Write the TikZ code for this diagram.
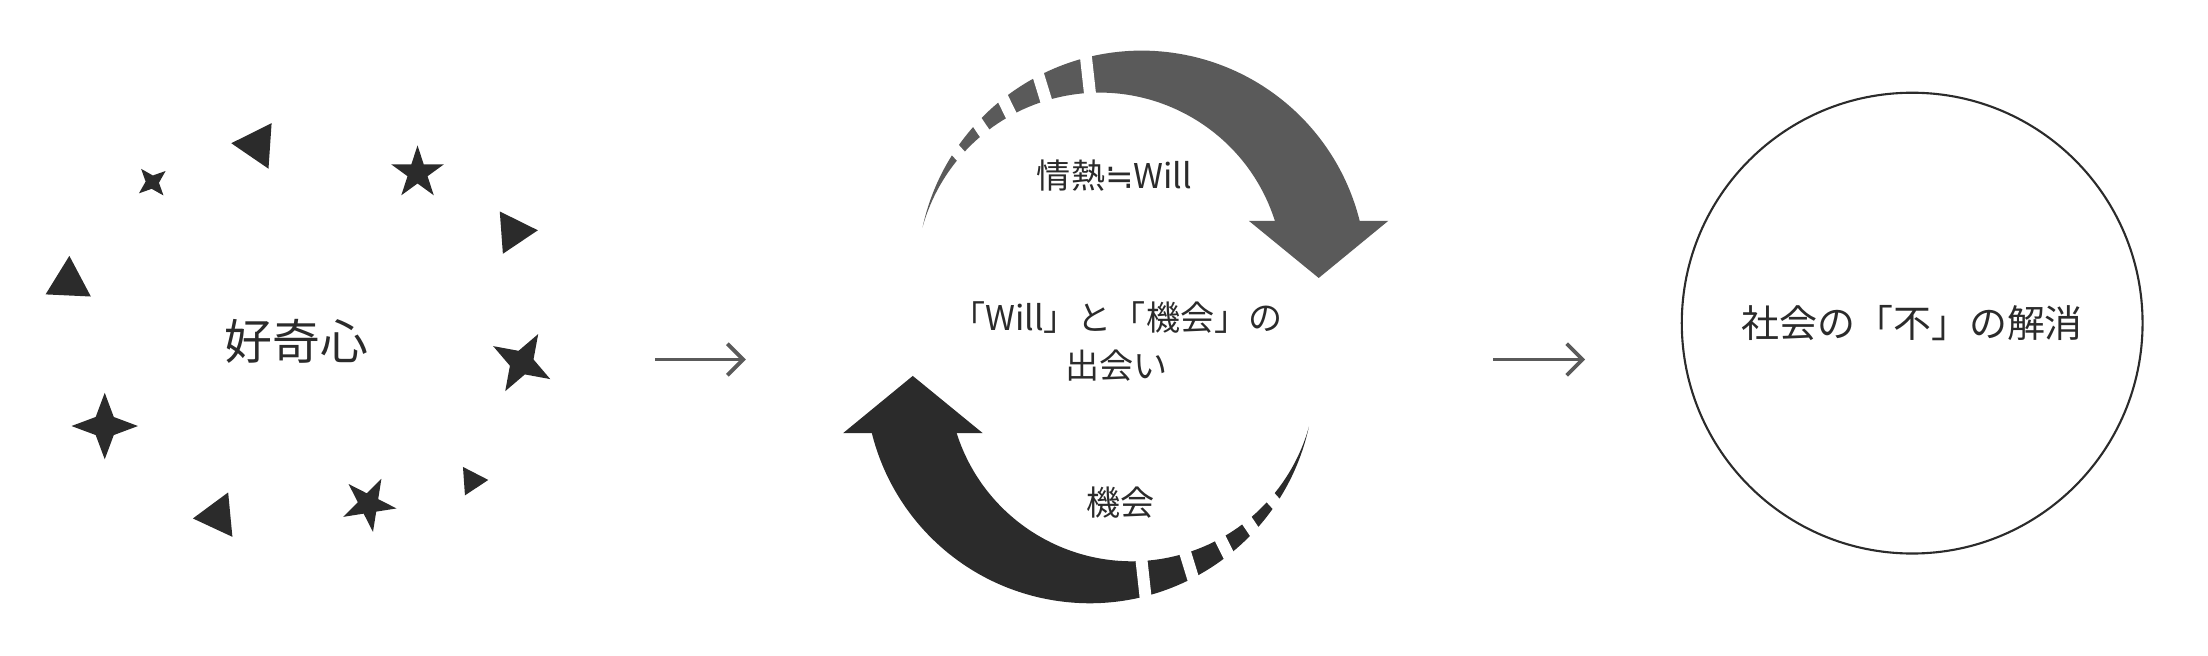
\documentclass[tikz,border=0pt]{standalone}
\usepackage{fontspec}
\setmainfont{Noto Sans CJK JP}
\newfontfamily\symfont{DejaVu Sans}
\usetikzlibrary{calc, positioning, shapes, arrows.meta}
\definecolor{ink}{HTML}{2B2B2B}
\definecolor{willgray}{HTML}{5A5A5A}
\definecolor{linegray}{HTML}{5A5A5A}

\begin{document}
\begin{tikzpicture}[x=0.014154cm, y=0.014154cm,
  sfour/.style={star, star points=4, star point ratio=2.6, fill=ink, inner sep=0pt},
  sfive/.style={star, star points=5, star point ratio=2.618, fill=ink, inner sep=0pt},
  lbl/.style={text=ink, inner sep=0pt, font=\fontsize{9.7}{13.7}\selectfont},
  notch/.style={white, line width=3.4pt},
  flow/.style={-{Straight Barb[length=4.5pt, width=9pt]}, line width=1.1pt, draw=linegray}]

  \useasboundingbox (0,0) rectangle (1560,-463);

  \node[sfour, minimum size=0.348cm, shape border rotate=40] (s1) at (107.6,-128.7) {};
  \node[sfive, minimum size=0.552cm] (s2) at (295,-122.2) {};
  \node[sfour, minimum size=0.66cm, star point ratio=2.7, shape border rotate=60] (s3) at (368.6,-256.2) {};
  \node[sfour, minimum size=0.665cm] (s4) at (74,-301) {};
  \node[sfive, minimum size=0.566cm, shape border rotate=-27] (s5) at (260.4,-356.1) {};

  \fill[ink] (163.4,-101.2) -- (191.9,-87) -- (189.7,-119.2) -- cycle;
  \fill[ink] (353.1,-149.4) -- (380,-162.7) -- (355.3,-179.3) -- cycle;
  \fill[ink] (32.2,-208) -- (49,-180.8) -- (64.2,-209.5) -- cycle;
  \fill[ink] (136.3,-366.3) -- (161.2,-347.9) -- (164.2,-379.3) -- cycle;
  \fill[ink] (327.1,-329.9) -- (345,-339.1) -- (328.5,-350) -- cycle;

  \node[lbl, font=\fontsize{13.6}{16}\selectfont] (curious) at (209.6,-241) {好奇心};

  \coordinate (cm) at (788.3,-231);
  \fill[willgray] (651.8,-160.6) arc[start angle=167.7, end angle=13.9, radius=158.6]
    -- (900.8,-156.3) arc[start angle=17.5, end angle=164.5, radius=129.9] -- cycle;
  \fill[willgray] (882.3,-156) -- (980.9,-156) -- (931.7,-196.4) -- cycle;
  \fill[ink] (924.8,-301.4) arc[start angle=347.7, end angle=193.9, radius=158.6]
    -- (675.8,-305.7) arc[start angle=197.5, end angle=344.5, radius=129.9] -- cycle;
  \fill[ink] (694.3,-306) -- (595.7,-306) -- (644.9,-265.6) -- cycle;
  \foreach \a in {96.3,107.1,116.3,124.1,132.2} {
    \draw[notch] (cm) ++(\a:140) -- ++(\a:65);
    \draw[notch] (cm) ++(\a+180:140) -- ++(\a+180:65);
  }

  \node[lbl] (will) at (787.5,-123.9) {情熱{\symfont ≒}Will};
  \node[lbl, align=center] (meet) at (789,-241.4) {「Will」と「機会」の\\出会い};
  \node[lbl] (chance) at (792,-355) {機会};

  \node[circle, draw=ink, line width=0.6pt, minimum size=4.61cm, text=ink,
    font=\fontsize{10.8}{13}\selectfont] (goal) at (1351,-228.3) {社会の「不」の解消};

  \coordinate (f1s) at (463,-254);
  \coordinate (f1e) at (527,-254);
  \coordinate (f2s) at (1055,-254);
  \coordinate (f2e) at (1120,-254);
  \draw[flow] (f1s) -- (f1e);
  \draw[flow] (f2s) -- (f2e);
\end{tikzpicture}
\end{document}
